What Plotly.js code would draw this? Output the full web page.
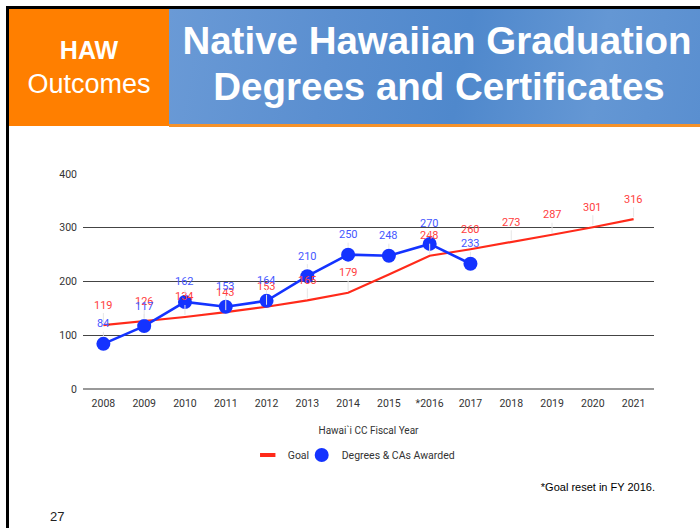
<!DOCTYPE html>
<html>
<head>
<meta charset="utf-8">
<script src="https://cdn.plot.ly/plotly-3.0.1.min.js"></script>
<style>
  html, body { margin: 0; padding: 0; width: 700px; height: 528px; background: #fff; overflow: hidden; }
  #frame { position: absolute; left: 6px; top: 6px; width: 700px; height: 530px; border-left: 3px solid #000; border-top: 3px solid #000; }
  #orange { position: absolute; left: 9px; top: 9px; width: 160px; height: 117px; background: #ff7f00; color: #fff; font-family: "Liberation Sans", Arial, sans-serif; text-align: center; }
  #orange .a { position: absolute; left: 0; width: 160px; top: 26px; font-size: 25px; font-weight: bold; line-height: 30px; }
  #orange .b { position: absolute; left: 0; width: 160px; top: 60px; font-size: 27px; line-height: 30px; }
  #blue { position: absolute; left: 169px; top: 9px; width: 531px; height: 115px;
    background: linear-gradient(100deg, #6a9ad6 0%, #5b8fd0 30%, #4f88cc 55%, #6497d4 80%, #5a8fd0 100%); color: #fff;
    font-family: "Liberation Sans", Arial, sans-serif; font-weight: bold; text-align: center; }
  #blueline { position: absolute; left: 169px; top: 124px; width: 531px; height: 3px; background: #f5922a; }
  #blue .l1 { position: absolute; left: 0; width: 536px; top: 12px; font-size: 38.5px; line-height: 40px; }
  #blue .l2 { position: absolute; left: 0; width: 540px; top: 58px; font-size: 38.5px; line-height: 40px; }
  #chart { position: absolute; left: 0; top: 0; width: 700px; height: 528px; }
  #note { position: absolute; right: 45px; top: 481px; font-family: "Liberation Sans", Arial, sans-serif; font-size: 11px; color: #000; }
  #page { position: absolute; left: 50px; top: 509px; font-family: "Liberation Sans", Arial, sans-serif; font-size: 13px; color: #222; }
</style>
</head>
<body>
<div id="frame"></div>
<div id="orange"><div class="a">HAW</div><div class="b">Outcomes</div></div>
<div id="blue"><div class="l1">Native Hawaiian Graduation</div><div class="l2">Degrees and Certificates</div></div>
<div id="blueline"></div>
<div id="chart"></div>
<div id="note">*Goal reset in FY 2016.</div>
<div id="page">27</div>
<script>
// Data
var years = ["2008","2009","2010","2011","2012","2013","2014","2015","*2016","2017","2018","2019","2020","2021"];
var goal = [119, 126, 134, 143, 153, 165, 179, 213, 248, 260, 273, 287, 301, 316];
var goalLabels = ["119","126","134","143","153","165","179","","248","260","273","287","301","316"];
var awardedYears = ["2008","2009","2010","2011","2012","2013","2014","2015","*2016","2017"];
var awarded = [84, 117, 162, 153, 164, 210, 250, 248, 270, 233];

var red = '#ff2a1a', blue = '#1433ff';
var redText = '#ff4040', blueText = '#4557ff';

var traces = [
  { x: years, y: goal, type: 'scatter', mode: 'lines', name: 'Goal',
    line: { color: red, width: 2.2 }, showlegend: false, hoverinfo: 'skip' },
  { x: awardedYears, y: awarded, type: 'scatter', mode: 'lines', name: 'Degrees & CAs Awarded',
    line: { color: blue, width: 2.6 }, showlegend: false, hoverinfo: 'skip' },
  // legend key for Goal (short thick bar, no data marks)
  { x: [null], y: [null], type: 'scatter', mode: 'markers', name: 'Goal', legend: 'legend',
    marker: { symbol: 'line-ew-open', size: 11, color: red, line: { color: red, width: 4 } }, hoverinfo: 'skip' },
  { x: awardedYears, y: awarded, type: 'scatter', mode: 'markers', name: 'Degrees & CAs Awarded', legend: 'legend2',
    marker: { color: blue, size: 14 }, hoverinfo: 'skip' }
];

var annotations = [];
function addLabels(xs, ys, labels, color, stand) {
  for (var i = 0; i < xs.length; i++) {
    if (!labels[i]) continue;
    annotations.push({ x: years.indexOf(xs[i]), y: ys[i], xref: 'x', yref: 'y', text: labels[i],
      showarrow: true, ax: 0, ay: -20, arrowhead: 0, arrowwidth: 1, arrowcolor: '#e6e6e6',
      standoff: stand, startstandoff: 0,
      font: { family: 'Roboto, sans-serif', size: 11, color: color } });
  }
}
addLabels(years, goal, goalLabels, redText, 2);
addLabels(awardedYears, awarded, awarded.map(String), blueText, 8);

var legendFont = { family: 'Roboto, sans-serif', size: 10.5, color: '#333' };
var layout = {
  width: 700, height: 528,
  margin: { l: 82.6, r: 46.4, t: 174, b: 139 },
  paper_bgcolor: 'rgba(0,0,0,0)', plot_bgcolor: 'rgba(0,0,0,0)',
  showlegend: true,
  legend: { orientation: 'h', x: 0.2885, xanchor: 'left', y: -0.307, yanchor: 'middle', font: legendFont, itemwidth: 30 },
  legend2: { orientation: 'h', x: 0.383, xanchor: 'left', y: -0.307, yanchor: 'middle', font: legendFont, itemwidth: 30 },
  xaxis: { type: 'category', range: [-0.5, 13.5], showgrid: false, zeroline: false, showline: false,
    ticks: '', ticklabelstandoff: 6,
    tickfont: { family: 'Roboto, sans-serif', size: 10.5, color: '#333' },
    title: { text: 'Hawai`i CC Fiscal Year', standoff: 18, font: { family: 'Roboto, sans-serif', size: 10, color: '#333' } },
    fixedrange: true },
  yaxis: { range: [0, 400], tickvals: [0, 100, 200, 300, 400], showgrid: true, gridcolor: '#444', gridwidth: 1.4,
    zeroline: true, zerolinecolor: '#999', zerolinewidth: 2, showline: false, ticks: '', ticklabelstandoff: 5,
    tickfont: { family: 'Roboto, sans-serif', size: 10.5, color: '#333' }, fixedrange: true },
  annotations: annotations
};

Plotly.newPlot('chart', traces, layout, { displayModeBar: false, staticPlot: true });
</script>
</body>
</html>
